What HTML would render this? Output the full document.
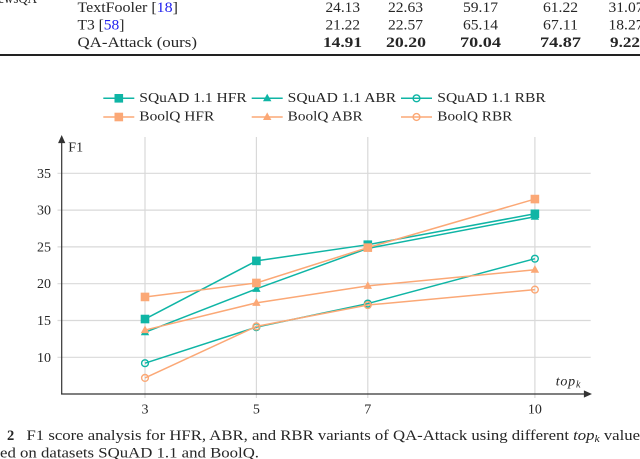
<!DOCTYPE html>
<html lang="en">
<head>
<meta charset="utf-8">
<title>F1 score analysis</title>
<style>
html,body{margin:0;padding:0;background:#fff;width:640px;height:459px;overflow:hidden}
svg{display:block}
text{font-family:"Liberation Serif",serif;fill:#262626}
.tb{font-size:14.5px}
.lg{font-size:14px}
.tk{font-size:14px}
.cp{font-size:14.5px}
</style>
</head>
<body>
<svg id="chart" width="640" height="459" viewBox="0 0 640 459" xmlns="http://www.w3.org/2000/svg">
<g>
<text class="tb" x="-11" y="3" textLength="48" lengthAdjust="spacingAndGlyphs">NewsQA</text>
<text class="tb" x="77.5" y="12" textLength="100.5" lengthAdjust="spacingAndGlyphs">TextFooler [<tspan fill="#2222ee">18</tspan>]</text>
<text class="tb" x="325.5" y="12" textLength="34.5" lengthAdjust="spacingAndGlyphs">24.13</text>
<text class="tb" x="388" y="12" textLength="35" lengthAdjust="spacingAndGlyphs">22.63</text>
<text class="tb" x="463" y="12" textLength="35" lengthAdjust="spacingAndGlyphs">59.17</text>
<text class="tb" x="543" y="12" textLength="35" lengthAdjust="spacingAndGlyphs">61.22</text>
<text class="tb" x="608.5" y="12" textLength="35" lengthAdjust="spacingAndGlyphs">31.07</text>
<text class="tb" x="77.5" y="29.5" textLength="47" lengthAdjust="spacingAndGlyphs">T3 [<tspan fill="#2222ee">58</tspan>]</text>
<text class="tb" x="325.5" y="29.5" textLength="34.5" lengthAdjust="spacingAndGlyphs">21.22</text>
<text class="tb" x="388" y="29.5" textLength="35" lengthAdjust="spacingAndGlyphs">22.57</text>
<text class="tb" x="463" y="29.5" textLength="35" lengthAdjust="spacingAndGlyphs">65.14</text>
<text class="tb" x="543" y="29.5" textLength="35" lengthAdjust="spacingAndGlyphs">67.11</text>
<text class="tb" x="608.5" y="29.5" textLength="35" lengthAdjust="spacingAndGlyphs">18.27</text>
<text class="tb" x="77.5" y="46.8" textLength="119.5" lengthAdjust="spacingAndGlyphs">QA-Attack (ours)</text>
<g font-weight="bold">
<text class="tb" x="323" y="46.8" textLength="39" lengthAdjust="spacingAndGlyphs">14.91</text>
<text class="tb" x="386" y="46.8" textLength="40" lengthAdjust="spacingAndGlyphs">20.20</text>
<text class="tb" x="460" y="46.8" textLength="41" lengthAdjust="spacingAndGlyphs">70.04</text>
<text class="tb" x="540" y="46.8" textLength="41" lengthAdjust="spacingAndGlyphs">74.87</text>
<text class="tb" x="610" y="46.8" textLength="30" lengthAdjust="spacingAndGlyphs">9.22</text>
</g>
<rect x="0" y="54" width="640" height="2" fill="#222"></rect>
</g>
<g id="grid"></g>
<g id="axes"></g>
<g id="series"></g>
<g id="legend"></g>
<g>
<text class="cp" x="7" y="440" font-weight="bold">2</text>
<text class="cp" x="26.5" y="440" textLength="613.5" lengthAdjust="spacingAndGlyphs">F1 score analysis for HFR, ABR, and RBR variants of QA-Attack using different <tspan font-style="italic">top<tspan font-size="10" dy="2">k</tspan></tspan><tspan dy="-2"> value</tspan></text>
<text class="cp" x="0" y="457.5" textLength="259" lengthAdjust="spacingAndGlyphs">ed on datasets SQuAD 1.1 and BoolQ.</text>
</g>
</svg>
<script>
const categories = [3, 5, 7, 10];
const yTicks = [10, 15, 20, 25, 30, 35];
const seriesNames = ['SQuAD 1.1 HFR', 'SQuAD 1.1 ABR', 'SQuAD 1.1 RBR', 'BoolQ HFR', 'BoolQ ABR', 'BoolQ RBR'];
const squadHfr = [15.2, 23.1, 25.3, 29.5];
const squadAbr = [13.4, 19.3, 24.8, 29.1];
const squadRbr = [9.2, 14.1, 17.3, 23.4];
const boolqHfr = [18.2, 20.1, 24.9, 31.5];
const boolqAbr = [13.7, 17.4, 19.7, 21.9];
const boolqRbr = [7.2, 14.2, 17.1, 19.2];

const TEAL = '#0fb5a5', ORANGE = '#fba876';
const NS = 'http://www.w3.org/2000/svg';
function xScale(v) { return 145 + (v - 3) * 55.7; }
function yScale(v) { return 357.3 - (v - 10) * 7.36; }
function mk(parent, tag, attrs, txt) {
  const el = document.createElementNS(NS, tag);
  for (const k in attrs) el.setAttribute(k, attrs[k]);
  if (txt !== undefined) el.textContent = txt;
  parent.appendChild(el);
  return el;
}
function marker(parent, shape, color, x, y) {
  let el;
  if (shape === 'square') {
    el = mk(parent, 'rect', { x: x - 4.3, y: y - 4.3, width: 8.6, height: 8.6, fill: color });
  } else if (shape === 'triangle') {
    el = mk(parent, 'polygon', { points: (x) + ',' + (y - 4.6) + ' ' + (x + 4.2) + ',' + (y + 3) + ' ' + (x - 4.2) + ',' + (y + 3), fill: color });
  } else {
    el = mk(parent, 'circle', { cx: x, cy: y, r: 3.4, fill: 'none', stroke: color, 'stroke-width': 1.4 });
  }
  return el;
}
const grid = document.getElementById('grid');
const axes = document.getElementById('axes');
const seriesG = document.getElementById('series');
const legend = document.getElementById('legend');

yTicks.forEach(function (t) {
  const y = yScale(t);
  const g = mk(grid, 'line', { x1: 57.5, x2: 590.7, y1: y, y2: y, stroke: '#d9d9d9', 'stroke-width': 1.2 });
  
  
  const l = mk(axes, 'text', { class: 'tk', x: 51, y: y + 4.5, 'text-anchor': 'end' }, String(t));
  
  
});
categories.forEach(function (c) {
  const x = xScale(c);
  const g = mk(grid, 'line', { x1: x, x2: x, y1: 137, y2: 398, stroke: '#d9d9d9', 'stroke-width': 1.2 });
  
  
  const l = mk(axes, 'text', { class: 'tk', x: x, y: 413.5, 'text-anchor': 'middle' }, String(c));
  
  
});

const yAxis = mk(axes, 'path', { d: 'M61.7 394.5V139M59 142.5L61.7 136.5L64.4 142.5Z', stroke: '#333', 'stroke-width': 1.2, fill: '#333' });


const xAxis = mk(axes, 'path', { d: 'M61.1 394H588M584.5 391.3L590.5 394L584.5 396.7Z', stroke: '#333', 'stroke-width': 1.2, fill: '#333' });


const yTitle = mk(axes, 'text', { class: 'tk', x: 68.3, y: 151.7 }, 'F1');


const xTitle = mk(axes, 'text', { class: 'tk', x: 555.7, y: 385.7, 'font-style': 'italic', 'letter-spacing': '0.8' }, 'top');


mk(xTitle, 'tspan', { 'font-size': '10', dy: '2' }, 'k');

const seriesValues = [squadHfr, squadAbr, squadRbr, boolqHfr, boolqAbr, boolqRbr];
const shapes = ['square', 'triangle', 'circle', 'square', 'triangle', 'circle'];
const colors = [TEAL, TEAL, TEAL, ORANGE, ORANGE, ORANGE];
const legendColX = [103.3, 251.7, 401];
const legendTextX = [139.3, 287.7, 437.3];
const legendRowY = [98.3, 117];
const legendTextW = [107.5, 108.5, 108.5, 75, 75, 75];

seriesValues.forEach(function (vals, i) {
  const color = colors[i];
  const pts = vals.map(function (v, j) { return xScale(categories[j]) + ',' + yScale(v); }).join(' ');
  const line = mk(seriesG, 'polyline', { points: pts, fill: 'none', stroke: color, 'stroke-width': 1.5 });
  
  
  vals.forEach(function (v, j) {
    const m = marker(seriesG, shapes[i], color, xScale(categories[j]), yScale(v));
    
    
  });

  const lx = legendColX[i % 3], ly = legendRowY[i < 3 ? 0 : 1];
  const swatch = mk(legend, 'line', { x1: lx, x2: lx + 31, y1: ly, y2: ly, stroke: color, 'stroke-width': 1.5 });
  
  
  const lm = marker(legend, shapes[i], color, lx + 15.5, ly);
  
  
  const lt = mk(legend, 'text', { class: 'lg', x: legendTextX[i % 3], y: ly + 3.6, textLength: legendTextW[i], lengthAdjust: 'spacingAndGlyphs' }, seriesNames[i]);
  
  
});
</script>
</body>
</html>
